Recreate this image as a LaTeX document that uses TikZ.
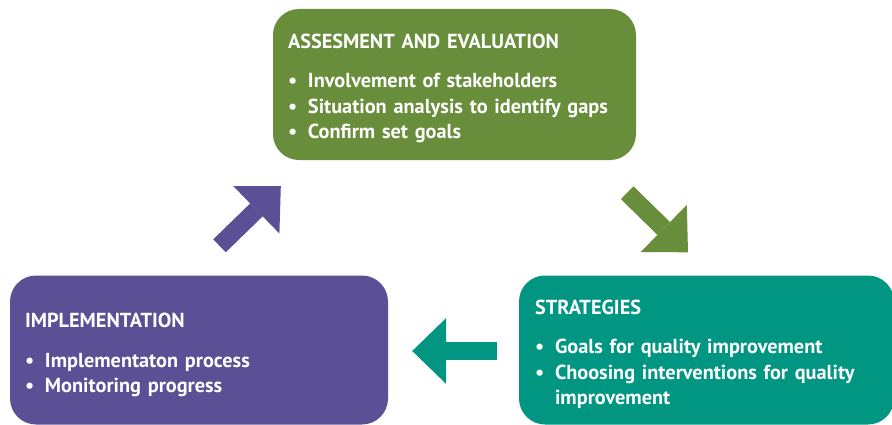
\documentclass[tikz,border=0pt]{standalone}
\usepackage{fontspec}
\setmainfont{PT Sans}
\usetikzlibrary{positioning,arrows.meta}

\definecolor{assessgreen}{HTML}{688E3B}
\definecolor{implpurple}{HTML}{5B5096}
\definecolor{stratteal}{HTML}{009682}
\newcommand{\itm}{\makebox[20pt][l]{\textbullet}}

\begin{document}
\begin{tikzpicture}[x=1pt,y=1pt,on grid=true,
    box/.style = {rounded corners=26pt, text=white, align=left, inner xsep=15pt,
      font=\bfseries\fontsize{20.3}{25.5}\selectfont, minimum height=149pt},
    blockarrow/.style = {line width=18pt, -{Triangle[width=66pt,length=34pt,line width=0pt]}}]
        \useasboundingbox (0,0) rectangle (892,424);

        \node[box,fill=assessgreen,text width=333pt,minimum height=151pt] (assess) at (454.5,339.5)
          {\rule{0pt}{22pt}ASSESMENT AND EVALUATION\\[14pt]
           \itm Involvement of stakeholders\\
           \itm Situation analysis to identify gaps\\
           \itm Confirm set goals};
        \node[box,fill=implpurple,text width=348pt] (impl) [below left=265.5pt and 255.5pt of assess]
          {\rule{0pt}{25pt}IMPLEMENTATION\\[14pt]
           \itm Implementaton process\\
           \itm Monitoring progress};
        \node[box,fill=stratteal,text width=343pt,inner xsep=16pt] (strat) [below right=265.5pt and 252pt of assess]
          {\rule{0pt}{23pt}STRATEGIES\\[14pt]
           \itm Goals for quality improvement\\
           \itm Choosing interventions for quality\\
           \hspace*{20pt}improvement};

        \coordinate[above right=29.5pt and 20.5pt of impl.north] (implout);
        \coordinate[below right=26pt and 8pt of assess.south west] (assessin);
        \coordinate[below left=32.5pt and 9pt of assess.south east] (assessout);
        \coordinate[above left=23pt and 18.5pt of strat.north] (stratin);
        \coordinate[below left=1pt and 22pt of strat.west] (stratout);
        \coordinate[below right=1pt and 24pt of impl.east] (implin);

        \draw[blockarrow,draw=implpurple] (implout) to (assessin);
        \draw[blockarrow,draw=assessgreen] (assessout) to (stratin);
        \draw[blockarrow,draw=stratteal] (stratout) to (implin);
\end{tikzpicture}
\end{document}
